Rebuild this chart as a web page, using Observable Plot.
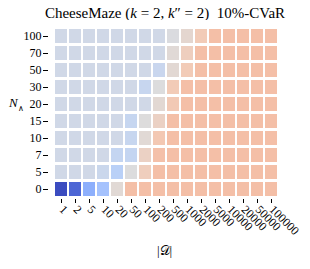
<!DOCTYPE html>
<html><head><meta charset="utf-8">
<script src="https://cdn.jsdelivr.net/npm/d3@7"></script>
<script src="https://cdn.jsdelivr.net/npm/@observablehq/plot@0.6"></script>
<style>
body{margin:0;background:#fff;font-family:"Liberation Serif",serif;}
#wrap{position:relative;width:310px;height:269px;}
#title{position:absolute;left:40px;width:250px;top:4px;text-align:center;font-size:15px;line-height:18px;white-space:nowrap;color:#000;}
#ylab{position:absolute;left:9px;top:96px;font-size:13px;line-height:14px;color:#000;}
#xlab{position:absolute;left:157px;top:244px;font-size:13px;line-height:14px;color:#000;}
#chart{position:absolute;left:0;top:20px;}
#chart svg, #chart svg text{font-family:"Liberation Serif",serif !important;}
</style></head><body>
<div id="wrap">
<div id="title">CheeseMaze (<i>k</i> = 2, <i>k</i>″ = 2)&nbsp; 10%-CVaR</div>
<div id="chart"></div>
<div id="ylab"><i>N</i><sub style="font-size:8px">∧</sub></div>
<div id="xlab">|𝒟|</div>
</div>
<script>
// column labels: dataset size |D|
const datasetSizes = ["1","2","5","10","20","50","100","200","500","1000","2000","5000","10000","20000","50000","100000"];
// row labels: N∧ (top to bottom)
const nValues = ["100","70","50","30","20","15","10","7","5","0"];
// cell values (signed, -1 .. 1) per row, columns follow datasetSizes
const row100 = [-0.09,-0.09,-0.09,-0.09,-0.09,-0.09,-0.09,-0.09,-0.02,0.07,0.2,0.28,0.28,0.28,0.28,0.28];
const row70  = [-0.09,-0.09,-0.09,-0.09,-0.09,-0.09,-0.09,-0.09,0.03,0.16,0.28,0.28,0.28,0.28,0.28,0.28];
const row50  = [-0.09,-0.09,-0.09,-0.09,-0.09,-0.09,-0.09,-0.14,0.05,0.2,0.28,0.28,0.28,0.28,0.28,0.28];
const row30  = [-0.09,-0.09,-0.09,-0.09,-0.09,-0.09,-0.15,-0.01,0.2,0.28,0.28,0.28,0.28,0.28,0.28,0.28];
const row20  = [-0.09,-0.09,-0.09,-0.09,-0.09,-0.09,-0.09,0.05,0.21,0.28,0.28,0.28,0.28,0.28,0.28,0.28];
const row15  = [-0.09,-0.09,-0.09,-0.09,-0.09,-0.16,0.0,0.13,0.28,0.28,0.28,0.28,0.28,0.28,0.28,0.28];
const row10  = [-0.09,-0.09,-0.09,-0.09,-0.09,-0.15,0.04,0.22,0.28,0.28,0.28,0.28,0.28,0.28,0.28,0.28];
const row7   = [-0.09,-0.09,-0.09,-0.09,-0.17,-0.17,0.13,0.27,0.28,0.28,0.28,0.28,0.28,0.28,0.28,0.28];
const row5   = [-0.09,-0.09,-0.09,-0.13,-0.24,-0.01,0.17,0.28,0.28,0.28,0.28,0.28,0.28,0.28,0.28,0.28];
const row0   = [-1.0,-0.88,-0.5,-0.36,0.04,0.28,0.28,0.28,0.28,0.28,0.28,0.28,0.28,0.28,0.28,0.28];
const rows = [row100,row70,row50,row30,row20,row15,row10,row7,row5,row0];

// coolwarm colour stops
const coolwarm = ["#3b4cc0","#5977e3","#7b9ff9","#9ebeff","#c0d4f5","#dddcdc","#f2cbb7","#f7ac8e","#ee8468","#d65244","#b40426"];

const table = [];
nValues.forEach((n, r) => datasetSizes.forEach((d, c) => table.push({n, d, v: rows[r][c]})));

const chart = Plot.plot({
  width: 310,
  height: 249,
  marginTop: 6,
  marginBottom: 70,
  marginLeft: 50,
  marginRight: 28,
  style: {fontFamily: "'Liberation Serif', serif", fontSize: "12px", color: "#000", background: "#fff"},
  x: {domain: datasetSizes, paddingInner: 0.17, paddingOuter: 0.085, label: null},
  y: {domain: nValues, paddingInner: 0.19, paddingOuter: 0.095, label: null},
  color: {type: "linear", domain: [-1, 1], interpolate: d3.piecewise(d3.interpolateRgb, coolwarm)},
  marks: [
    Plot.cell(table, {x: "d", y: "n", fill: "v"}),
    Plot.axisY({tickSize: 5, tickPadding: 2, dx: -2, label: null, fontSize: 12, fontFamily: "Liberation Serif"}),
    Plot.axisX({tickSize: 4, tickPadding: 4, tickRotate: 45, label: null, fontSize: 12, fontFamily: "Liberation Serif"})
  ]
});
document.getElementById("chart").appendChild(chart);
</script>
</body></html>
